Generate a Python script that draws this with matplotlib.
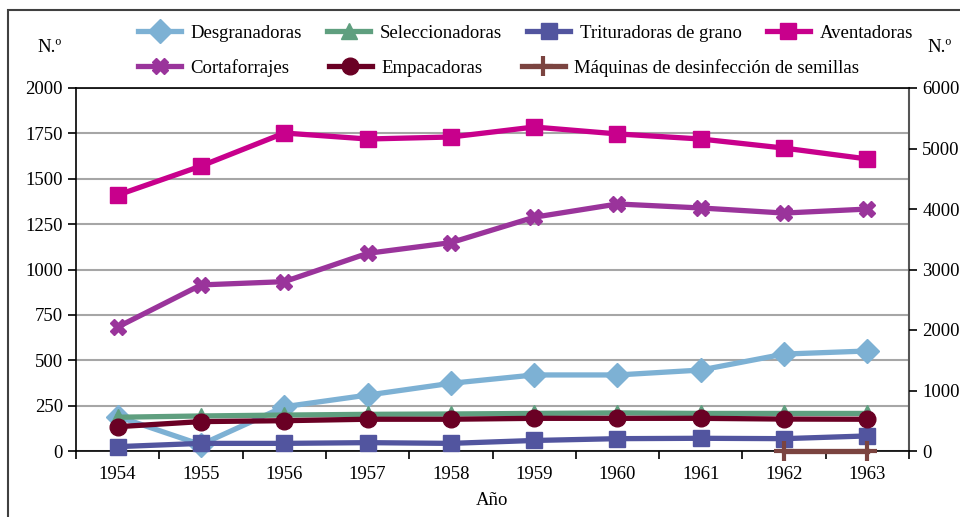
import matplotlib.pyplot as plt
from matplotlib.patches import Rectangle

plt.rcParams['font.family'] = ['Liberation Serif', 'DejaVu Serif']

# Años y número de máquinas por tipo
anios = ['1954', '1955', '1956', '1957', '1958', '1959', '1960', '1961', '1962', '1963']
desgranadoras = [190, 35, 244, 308, 373, 419, 419, 446, 534, 551]
seleccionadoras = [186, 193, 198, 202, 204, 207, 210, 207, 207, 207]
trituradoras = [24, 42, 42, 46, 42, 58, 68, 70, 68, 83]
aventadoras = [1410, 1570, 1752, 1719, 1730, 1785, 1747, 1719, 1669, 1609]
cortaforrajes = [683, 915, 933, 1089, 1148, 1288, 1361, 1339, 1311, 1333]
empacadoras = [134, 162, 167, 175, 175, 180, 180, 180, 176, 175]
desinfeccion = [None] * 8 + [0, 0]

series = [
    ("Desgranadoras", desgranadoras, '#7DB1D4', 'D', 12),
    ("Seleccionadoras", seleccionadoras, '#5F9F7F', '^', 12),
    ("Trituradoras de grano", trituradoras, '#52559F', 's', 11),
    ("Aventadoras", aventadoras, '#C8008C', 's', 12),
    ("Cortaforrajes", cortaforrajes, '#9A349B', 'X', 11),
    ("Empacadoras", empacadoras, '#6A0024', 'o', 12),
    ("Máquinas de desinfección de semillas", desinfeccion, '#7B4440', '+', 14),
]

fig = plt.figure(figsize=(9.6, 5.17), dpi=100)
ax = fig.add_axes([76 / 960, 66 / 517, 833 / 960, 363 / 517])

x = list(range(len(anios)))
lineas = []
for nombre, valores, color, marcador, ms in series:
    y = [float('nan') if v is None else v for v in valores]
    l, = ax.plot(x, y, color=color, lw=3.8, marker=marcador, ms=ms,
                 mew=3 if marcador == '+' else 1, mec=color, mfc=color,
                 label=nombre, clip_on=False, zorder=3)
    lineas.append(l)

ax.set_xlim(-0.5, len(anios) - 0.5)
ax.set_ylim(0, 2000)
ax.set_yticks(range(0, 2001, 250))
ax.set_xticks(x)
ax.set_xticklabels(anios)
ax.set_xticks([i + 0.5 for i in range(-1, len(anios))], minor=True)
ax.tick_params(axis='x', which='major', length=0, labelsize=13.5, pad=11)
ax.tick_params(axis='x', which='minor', length=6, width=1.2, direction='out')
ax.tick_params(axis='y', length=6, width=1.2, labelsize=13.5, direction='out')
ax.yaxis.grid(True, color='#A6A6A6', lw=1.5)
ax.set_axisbelow(True)
for s in ['left', 'bottom', 'top']:
    ax.spines[s].set_linewidth(1.2)
ax.spines['right'].set_color('#555555')
ax.spines['right'].set_linewidth(1.5)
ax.set_xlabel("Año", fontsize=13.5, labelpad=6)

ax2 = ax.twinx()
ax2.set_ylim(0, 6000)
ax2.set_yticks(range(0, 6001, 1000))
ax2.tick_params(axis='y', length=6, width=1.2, labelsize=13.5, direction='out')
for s in ax2.spines.values():
    s.set_visible(False)

fig.text(50 / 960, 1 - 48 / 517, "N.º", fontsize=13.5, ha='center', va='center')
fig.text(940 / 960, 1 - 48 / 517, "N.º", fontsize=13.5, ha='center', va='center')

# Leyenda en dos filas
fila1 = [lineas[i] for i in (0, 1, 2, 3)]
fila2 = [lineas[i] for i in (4, 5, 6)]
opciones = dict(frameon=False, fontsize=13.5, handlelength=2.3, handletextpad=0.5,
                borderpad=0, borderaxespad=0, loc='center left',
                bbox_transform=fig.transFigure)
leg1 = fig.legend(fila1, [l.get_label() for l in fila1], ncol=4, columnspacing=1.35,
                  bbox_to_anchor=(138 / 960, 1 - 33 / 517), **opciones)
leg2 = fig.legend(fila2, [l.get_label() for l in fila2], ncol=3, columnspacing=2.1,
                  bbox_to_anchor=(138 / 960, 1 - 68 / 517), **opciones)

# Marco exterior
fig.patches.append(Rectangle((8 / 960, -0.1), 1.1, 1 - 10 / 517 + 0.1,
                             transform=fig.transFigure, fill=False,
                             ec='#404040', lw=1.5))

fig.savefig('out.png', dpi=100)
